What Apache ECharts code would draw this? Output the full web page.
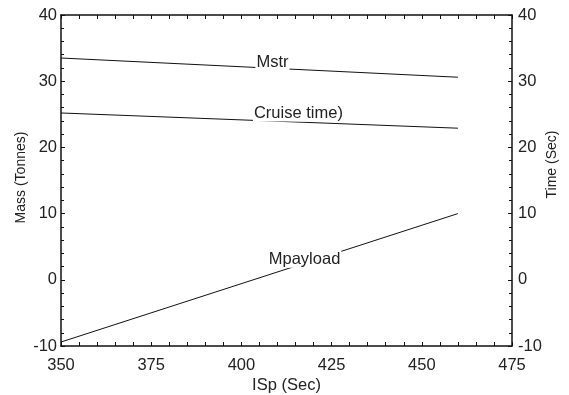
<!DOCTYPE html>
<html>
<head>
<meta charset="utf-8">
<script src="https://cdn.jsdelivr.net/npm/echarts@6/dist/echarts.min.js"></script>
<style>
  html, body { margin: 0; padding: 0; background: #fff; }
  #chart { width: 569px; height: 395px; }
</style>
</head>
<body>
<div id="chart"></div>
<script>
// ISp values at the ends of each line
const isp = [350, 460]
const mstr = [33.5, 30.6]
const cruiseTime = [25.2, 22.9]
const mpayload = [-9.4, 10.0]
// where the in-line labels sit [isp, value]
const labelPos = {
  Mstr: [408.6, 32.9],
  'Cruise time)': [415.8, 25.2],
  Mpayload: [417.5, 3.1]
}

const chart = echarts.init(document.getElementById('chart'), null, { renderer: 'canvas' })
const font = 'Liberation Sans, Arial, sans-serif'
const black = '#111'

function yAx(name, pos, gap, shift) {
  return {
    type: 'value',
    position: pos,
    min: -10,
    max: 40,
    interval: 10,
    name: name,
    nameLocation: 'middle',
    nameGap: gap,
    nameMoveOverlap: false,
    nameTextStyle: { fontFamily: font, fontSize: 14, color: '#222', padding: [0, 0, 0, shift] },
    axisLine: { show: true, onZero: false, lineStyle: { color: black, width: 1.5 } },
    axisTick: { show: true, inside: true, length: 4, lineStyle: { color: black } },
    minorTick: { show: true, splitNumber: 5, length: 3, lineStyle: { color: black } },
    axisLabel: { fontFamily: font, fontSize: 16.5, color: '#222', margin: pos === 'left' ? 4 : 6 },
    splitLine: { show: false }
  }
}

function xAx(pos, show) {
  return {
    type: 'value',
    position: pos,
    min: 350,
    max: 475,
    interval: 25,
    name: show ? 'ISp (Sec)' : '',
    nameLocation: 'middle',
    nameGap: 31,
    nameMoveOverlap: false,
    nameTextStyle: { fontFamily: font, fontSize: 16.5, color: '#222' },
    axisLine: { show: true, onZero: false, lineStyle: { color: black, width: 1.5 } },
    axisTick: { show: true, inside: true, length: 4, lineStyle: { color: black } },
    minorTick: { show: true, splitNumber: 5, length: 4, lineStyle: { color: black } },
    axisLabel: { show: show, fontFamily: font, fontSize: 16.5, color: '#222', margin: 11 },
    splitLine: { show: false }
  }
}

function line(name, vals) {
  return {
    type: 'line',
    name: name,
    data: isp.map((x, i) => [x, vals[i]]),
    showSymbol: false,
    lineStyle: { color: black, width: 1 },
    z: 2,
    markPoint: {
      symbol: 'circle',
      symbolSize: 0,
      data: [{ coord: labelPos[name] }],
      label: {
        show: true,
        position: 'inside',
        formatter: name,
        fontFamily: font,
        fontSize: 16.5,
        color: '#222',
        backgroundColor: '#fff',
        padding: [0, 1, 0, 1]
      }
    }
  }
}

chart.setOption({
  backgroundColor: '#fff',
  animation: false,
  grid: { left: 61, right: 57, top: 15, bottom: 49, outerBoundsMode: 'none', containLabel: false },
  xAxis: [xAx('bottom', true), xAx('top', false)],
  yAxis: [yAx('Mass (Tonnes)', 'left', 33, 6), yAx('Time (Sec)', 'right', 33, 32)],
  series: [
    line('Mstr', mstr),
    line('Cruise time)', cruiseTime),
    line('Mpayload', mpayload)
  ]
})
</script>
</body>
</html>
